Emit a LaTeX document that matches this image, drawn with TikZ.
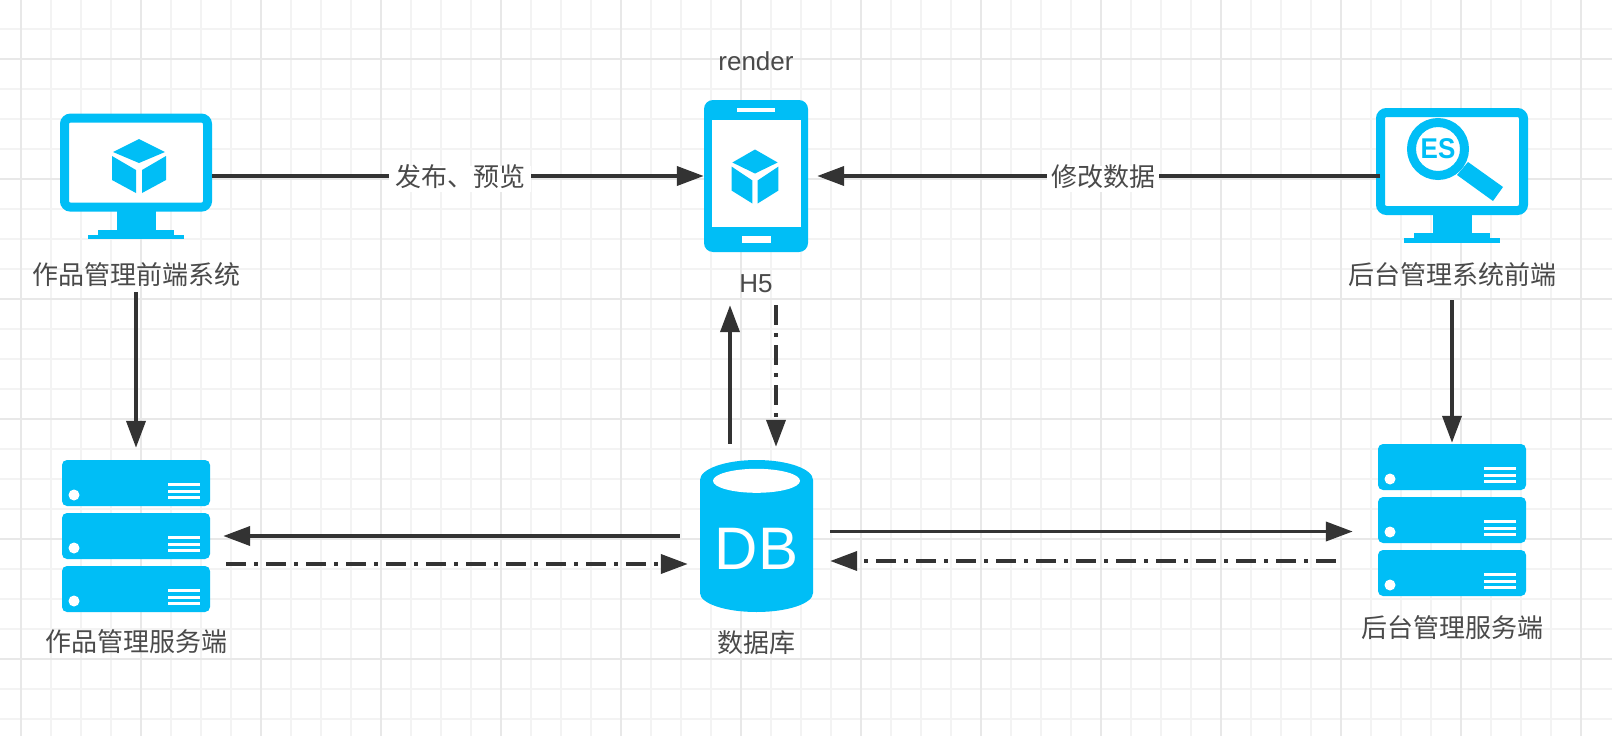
\documentclass[tikz,border=0pt]{standalone}
\usepackage{fontspec}
\setmainfont{Liberation Sans}
\newfontfamily\cjkfont{Noto Sans CJK SC}
\usetikzlibrary{shapes.geometric, arrows.meta}
\definecolor{iconblue}{HTML}{00BEF6}
\definecolor{inkgray}{HTML}{4A4A4A}
\definecolor{arrowgray}{HTML}{333333}
\definecolor{gridminor}{HTML}{F3F3F3}
\definecolor{gridmajor}{HTML}{E8E8E8}
\tikzstyle{monitor} = [rectangle, rounded corners=6pt,
minimum width=143pt,
draw=iconblue,
line width=9pt,
fill=white,
inner sep=0pt]
\tikzstyle{handset} = [rectangle, rounded corners=9pt,
minimum width=104pt,
minimum height=152pt,
fill=iconblue,
inner sep=0pt]
\tikzstyle{rack} = [rectangle,
minimum width=148pt,
minimum height=152pt,
inner sep=0pt]
\tikzstyle{drum} = [rectangle,
minimum width=113pt,
minimum height=152pt,
inner sep=0pt]
\tikzstyle{lens} = [circle,
minimum size=53pt,
draw=iconblue,
line width=9pt,
fill=white,
inner sep=0pt,
text=iconblue,
font=\bfseries\fontsize{26}{28}\selectfont]
\tikzstyle{cntext} = [text=inkgray, inner sep=0pt, text height=20pt, text depth=6pt,
font=\cjkfont\fontsize{26}{30}\selectfont]
\tikzstyle{latintext} = [cntext, font=\fontsize{26}{30}\selectfont]
\tikzstyle{arrowlabel} = [cntext, fill=white, inner xsep=6pt, yshift=-3pt]
\tikzstyle{arrow} = [line width=3.8pt, draw=arrowgray, -{Triangle[length=27pt,width=19pt]}]
\tikzstyle{dotarrow} = [arrow, dash pattern=on 20pt off 8pt on 4pt off 8pt]
% stand under a monitor
\newcommand{\drawstand}[1]{
	\begin{scope}[shift={(#1.south)}]
		\fill[iconblue] (-19.5,-1) rectangle (19.5,18);
		\fill[iconblue] (-38,18) rectangle (38,23);
		\fill[iconblue] (-48,23) rectangle (48,27.5);
	\end{scope}
}
% box logo: #1 centre, #2 x scale
\newcommand{\drawcube}[2]{
	\begin{scope}[shift={#1}, xscale=#2]
		\fill[iconblue] (0,-27) -- (26,-14) -- (0,-3) -- (-26,-14) -- cycle;
		\fill[iconblue] (-27,-10) -- (-3,4) -- (-3,27) -- (-27,14) -- cycle;
		\fill[iconblue] (27,-10) -- (3,4) -- (3,27) -- (27,14) -- cycle;
	\end{scope}
}
% three server rows inside a rack node
\newcommand{\drawrack}[1]{
	\begin{scope}[shift={(#1.center)}]
		\foreach \rowy in {-76,-23,30} {
			\fill[iconblue, rounded corners=5pt] (-74,\rowy) rectangle (74,\rowy+46);
			\fill[white] (-62,\rowy+35) circle (5.5pt);
			\foreach \liney in {24,31,37}
				\draw[white, line width=3pt] (32,\rowy+\liney) -- (64,\rowy+\liney);
		}
	\end{scope}
}
\begin{document}
\begin{tikzpicture}[x=1pt, y=-1pt, node distance=109.5pt]
			\useasboundingbox (0,0) rectangle (1612,736);
			\fill[white] (0,0) rectangle (1612,736);
			% grid
			\foreach \k in {0,...,52} {
				\draw[gridminor, line width=1.8pt] (21+30*\k,0) -- (21+30*\k,736);
			}
			\foreach \k in {0,...,23} {
				\draw[gridminor, line width=1.8pt] (0,29+30*\k) -- (1612,29+30*\k);
			}
			\foreach \k in {0,...,13} {
				\draw[gridmajor, line width=1.8pt] (21+120*\k,0) -- (21+120*\k,736);
			}
			\foreach \k in {0,...,5} {
				\draw[gridmajor, line width=1.8pt] (0,59+120*\k) -- (1612,59+120*\k);
			}

			\node (frontsys) [monitor, minimum height=89pt] at (136,162.6) {};
			\node (adminsys) [monitor, minimum height=98pt] at (1452,161.5) {};
			\node (phone) [handset] at (756,176) {};
			\node (srvleft) [rack] at (136,536) {};
			\node (srvright) [rack] at (1452,520) {};
			\node (db) [drum] at (756.5,536) {};

			% database barrel
			\begin{scope}[shift={(db.center)}]
				\fill[iconblue] (-56.5,-56) arc [start angle=180, end angle=360, x radius=56.5, y radius=20]
					-- (56.5,57) arc [start angle=0, end angle=180, x radius=56.5, y radius=19] -- cycle;
			\end{scope}
			\node (dblid) [ellipse, fill=white, minimum width=87pt, minimum height=24pt, inner sep=0pt] at ([yshift=-21pt]db.north) {};
			\node (dbtext) [text=white, inner sep=0pt, font=\fontsize{60}{64}\selectfont] at ([yshift=-13pt]db.center) {DB};

			\node (frontlabel) [cntext, below of=frontsys, node distance=115pt] {作品管理前端系统};
			\node (adminlabel) [cntext, below of=adminsys, node distance=116pt] {后台管理系统前端};
			\node (renderlabel) [latintext, above of=phone, node distance=113pt] {render};
			\node (h5label) [latintext, below of=phone] {H5};
			\node (srvleftlabel) [cntext, below of=srvleft, node distance=108.5pt] {作品管理服务端};
			\node (srvrightlabel) [cntext, below of=srvright, node distance=110.5pt] {后台管理服务端};
			\node (dblabel) [cntext, below of=db] {数据库};

			\drawstand{frontsys}
			\drawstand{adminsys}
			\drawcube{(139,166)}{1}
			\drawrack{srvleft}
			\drawrack{srvright}

			% phone front
			\node (screen) [rectangle, fill=white, minimum width=89pt, minimum height=107pt, inner sep=0pt] at (756.5,173.5) {};
			\node (speaker) [rectangle, fill=white, minimum width=38pt, minimum height=4pt, inner sep=0pt] at (756,110) {};
			\node (homekey) [rectangle, fill=white, minimum width=29pt, minimum height=7pt, inner sep=0pt] at (756.5,239.5) {};
			\drawcube{(755,176.5)}{0.87}

			% magnifier
			\fill[iconblue] (1468,162) -- (1503,187) -- (1493,201) -- (1457,175) -- cycle;
			\node (esmark) [lens] at (1438,149) {\scalebox{1.0}[1.1]{ES}};

			\draw[arrow] (frontsys.east |- phone.west) -- node[arrowlabel, pos=0.505] {发布、预览} (phone.west);
			\draw[arrow, shorten <=-4pt, shorten >=9pt] (adminsys.west |- phone.east) -- node[arrowlabel, pos=0.48, inner xsep=4pt] {修改数据} (phone.east);
			\draw[arrow, shorten <=1.5pt, shorten >=12pt] (frontlabel.south) -- (srvleft.north);
			\draw[arrow, shorten <=9.5pt, shorten >=1pt] (adminlabel.south) -- (srvright.north);
			\draw[arrow, shorten <=16pt, shorten >=6.5pt] ([xshift=-26.5pt]db.north) -- ([xshift=-26pt]h5label.south);
			\draw[dotarrow, shorten <=6.5pt, shorten >=13pt] ([xshift=20pt]h5label.south) -- ([xshift=19.5pt]db.north);
			\draw[arrow, shorten <=20pt, shorten >=13pt] (db.west) -- (srvleft.east);
			\draw[dotarrow, shorten <=16pt, shorten >=12pt] ([yshift=-28pt]srvleft.east) -- ([yshift=-28pt]db.west);
			\draw[arrow, shorten <=17pt, shorten >=25pt] ([yshift=4.5pt]db.east) -- ([yshift=-11.5pt]srvright.west);
			\draw[dotarrow, shorten <=42pt, shorten >=17pt] ([yshift=-41pt]srvright.west) -- ([yshift=-25pt]db.east);
\end{tikzpicture}
\end{document}
